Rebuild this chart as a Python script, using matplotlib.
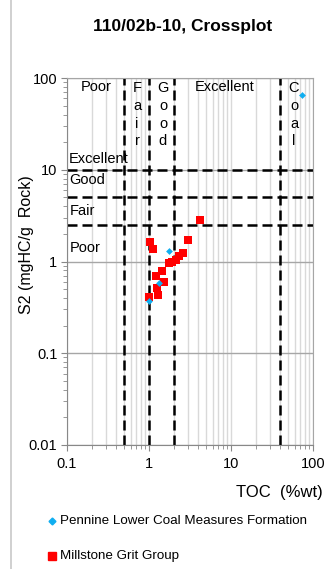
import matplotlib
matplotlib.use("Agg")
import matplotlib.pyplot as plt
from matplotlib.lines import Line2D
from matplotlib.ticker import LogLocator, NullFormatter

plt.rcParams['font.family'] = ['Liberation Sans', 'DejaVu Sans']

title = "110/02b-10, Crossplot"
xlabel = "TOC  (%wt)"
ylabel = "S2 (mgHC/g  Rock)"

# Pennine Lower Coal Measures Formation (blue diamonds)
plcm_toc = [1.77, 1.33, 0.99, 74.0]
plcm_s2 = [1.29, 0.59, 0.37, 66.0]

# Millstone Grit Group (red squares)
msg_toc = [1.03, 1.13, 3.01, 2.62, 2.34, 2.13, 1.92, 1.77, 1.45, 1.22, 1.54, 1.24, 1.30, 1.01, 4.19]
msg_s2 = [1.63, 1.37, 1.71, 1.23, 1.15, 1.04, 1.00, 0.96, 0.78, 0.70, 0.60, 0.51, 0.43, 0.41, 2.83]

toc_bounds = [0.5, 1, 2, 40]
s2_bounds = [2.5, 5, 10]

series_names = ["Pennine Lower Coal Measures Formation", "Millstone Grit Group"]

fig = plt.figure(figsize=(3.29, 5.69), dpi=100)
ax = fig.add_axes([67/329, 1-445/569, (313-67)/329, (445-78)/569])
ax.set_xscale('log')
ax.set_yscale('log')
ax.set_xlim(0.1, 100)
ax.set_ylim(0.01, 100)

grid_c = '#d9d9d9'
ax.xaxis.set_minor_locator(LogLocator(base=10, subs=range(2, 10), numticks=20))
ax.yaxis.set_minor_locator(LogLocator(base=10, subs=range(2, 10), numticks=20))
ax.xaxis.set_minor_formatter(NullFormatter())
ax.yaxis.set_minor_formatter(NullFormatter())
ax.set_xticks([0.1, 1, 10, 100])
ax.set_xticklabels(['0.1', '1', '10', '100'])
ax.set_yticks([0.01, 0.1, 1, 10, 100])
ax.set_yticklabels(['0.01', '0.1', '1', '10', '100'])

ax.grid(True, axis='x', which='both', color=grid_c, lw=1.0, zorder=0)
ax.grid(True, axis='y', which='major', color='#a6a6a6', lw=1.0, zorder=0)
for s in ax.spines.values():
    s.set_color('#a6a6a6')
    s.set_linewidth(0.8)
ax.spines['left'].set_color('#888888')
ax.spines['bottom'].set_color('#888888')
ax.tick_params(axis='both', which='major', direction='out', length=4, color='#888888',
               labelsize=10.5, pad=3)
ax.tick_params(axis='both', which='minor', direction='out', length=3, color='#888888')
ax.tick_params(axis='x', which='major', pad=5)

for xv in toc_bounds:
    ax.axvline(xv, color='black', lw=1.8, ls=(0, (4, 2)), zorder=2)
for yv in s2_bounds:
    ax.axhline(yv, color='black', lw=1.8, ls=(0, (4, 2)), zorder=2)

ax.scatter(plcm_toc, plcm_s2, marker='D', s=12, color='#10aef0', lw=0, zorder=4)
ax.scatter(msg_toc, msg_s2, marker='s', s=36, color='#ff0000', lw=0, zorder=3)

fs = 10.5
ls_v = 1.35
# top zone labels
ax.text(0.226, 80, "Poor", fontsize=fs, ha='center', va='center')
ax.text(8.4, 80, "Excellent", fontsize=fs, ha='center', va='center')
ax.text(0.714, 93, "F\na\ni\nr", fontsize=fs, ha='center', va='top', linespacing=ls_v)
ax.text(1.48, 93, "G\no\no\nd", fontsize=fs, ha='center', va='top', linespacing=ls_v)
ax.text(58.6, 93, "C\no\na\nl", fontsize=fs, ha='center', va='top', linespacing=ls_v)

# left zone labels
ax.text(0.104, 13.2, "Excellent", fontsize=fs, ha='left', va='center')
ax.text(0.108, 7.8, "Good", fontsize=fs, ha='left', va='center')
ax.text(0.108, 3.55, "Fair", fontsize=fs, ha='left', va='center')
ax.text(0.108, 1.42, "Poor", fontsize=fs, ha='left', va='center')

fig.text(183/329, 1-27/569, title, fontsize=12.5, fontweight='bold', ha='center', va='center')
fig.text(323/329, 1-492/569, xlabel, fontsize=12, ha='right', va='center')
fig.text(27/329, 1-245/569, ylabel, fontsize=11.5, ha='center', va='center', rotation=90)

# legend
fig.add_artist(Line2D([52/329], [1-521/569], marker='D', markersize=3.5, color='#10aef0',
                      lw=0, transform=fig.transFigure))
fig.text(60/329, 1-521/569, series_names[0], fontsize=9.6, ha='left', va='center')
fig.add_artist(Line2D([52/329], [1-556/569], marker='s', markersize=6, color='#ff0000',
                      lw=0, transform=fig.transFigure))
fig.text(60/329, 1-556/569, series_names[1], fontsize=9.6, ha='left', va='center')

# chart border line at left
fig.add_artist(Line2D([11/329, 11/329], [0, 1], color='#c8c8c8', lw=1.2, transform=fig.transFigure))

fig.savefig("out.png", dpi=100)
